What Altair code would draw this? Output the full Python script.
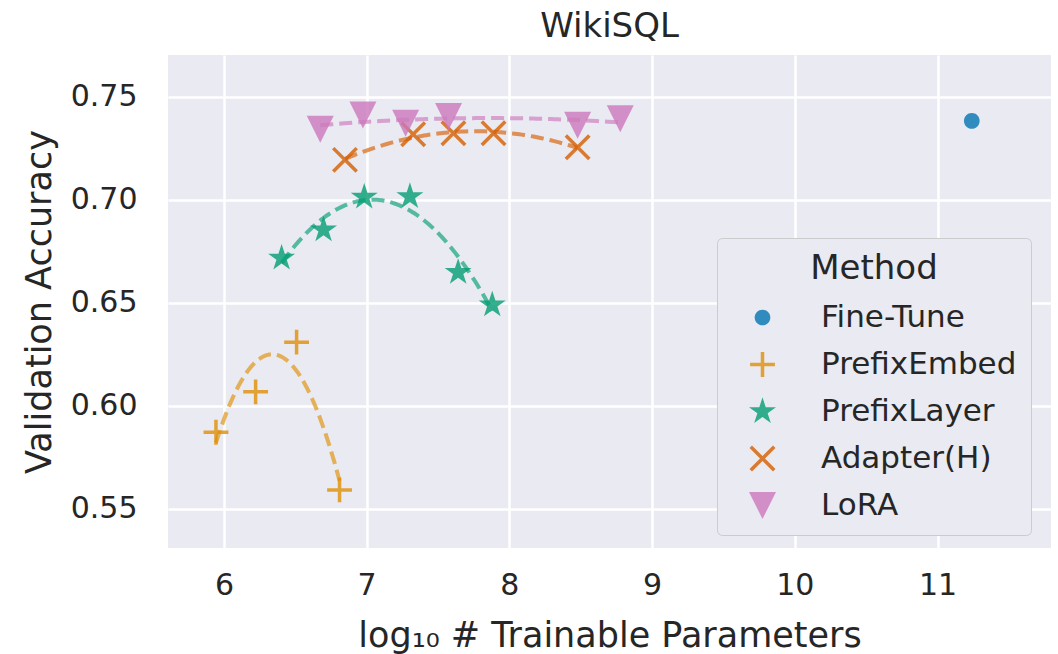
import altair as alt
import pandas as pd

# ---- data ----
methods = ["Fine-Tune", "PrefixEmbed", "PrefixLayer", "Adapter(H)", "LoRA"]
colors = ["#0173B2", "#DE8F05", "#029E73", "#D55E00", "#CC78BC"]

finetune_x = [11.24]
finetune_y = [0.7382]
prefixembed_x = [5.944, 6.222, 6.509, 6.810]
prefixembed_y = [0.5871, 0.6067, 0.6308, 0.5591]
prefixlayer_x = [6.404, 6.698, 6.983, 7.303, 7.641, 7.880]
prefixlayer_y = [0.6716, 0.6853, 0.7012, 0.7015, 0.6647, 0.6489]
adapter_x = [6.848, 7.326, 7.608, 7.889, 8.478]
adapter_y = [0.7193, 0.7317, 0.7322, 0.7322, 0.7254]
lora_x = [6.675, 6.974, 7.273, 7.574, 8.478, 8.777]
lora_y = [0.7342, 0.7411, 0.7371, 0.7403, 0.7361, 0.7392]

x_ticks = [6, 7, 8, 9, 10, 11]
y_ticks = [0.55, 0.60, 0.65, 0.70, 0.75]

series = [
    ("Fine-Tune", finetune_x, finetune_y),
    ("PrefixEmbed", prefixembed_x, prefixembed_y),
    ("PrefixLayer", prefixlayer_x, prefixlayer_y),
    ("Adapter(H)", adapter_x, adapter_y),
    ("LoRA", lora_x, lora_y),
]
rows = []
for name, xs, ys in series:
    for xv, yv in zip(xs, ys):
        rows.append({"Method": name, "x": xv, "y": yv})
df = pd.DataFrame(rows)

# ---- marker shapes (filled unit paths) ----
circle_path = "M-0.58,0A0.58,0.58 0 1,0 0.58,0A0.58,0.58 0 1,0 -0.58,0Z"
plus_path = ("M-0.92,-0.13L-0.13,-0.13L-0.13,-0.92L0.13,-0.92L0.13,-0.13L0.92,-0.13"
             "L0.92,0.13L0.13,0.13L0.13,0.92L-0.13,0.92L-0.13,0.13L-0.92,0.13Z")
star_path = ("M0,-1.05L0.236,-0.324L0.999,-0.324L0.381,0.124L0.617,0.849"
             "L0,0.401L-0.617,0.849L-0.381,0.124L-0.999,-0.324L-0.236,-0.324Z")
x_path = ("M0,-0.184L0.778,-0.962L0.962,-0.778L0.184,0L0.962,0.778L0.778,0.962"
          "L0,0.184L-0.778,0.962L-0.962,0.778L-0.184,0L-0.962,-0.778L-0.778,-0.962Z")
tri_path = "M-1,-1L1,-1L0,1Z"
shapes = [circle_path, plus_path, star_path, x_path, tri_path]

FONT = "DejaVu Sans"
TXT = "#262626"

xscale = alt.Scale(domain=[5.608, 11.795], nice=False, zero=False)
yscale = alt.Scale(domain=[0.5309, 0.7702], nice=False, zero=False)

x_axis = alt.Axis(values=x_ticks, format="d", title="log₁₀ # Trainable Parameters",
                  labelPadding=22, titleX=441.5, titleY=98,
                  titleBaseline="alphabetic")
y_axis = alt.Axis(values=y_ticks, format=".2f", title="Validation Accuracy",
                  labelPadding=31, titleX=-118, titleY=246.5,
                  titleBaseline="alphabetic")

color_scale = alt.Scale(domain=methods, range=colors)
base = alt.Chart(df)

points = base.mark_point(filled=True, opacity=0.8, size=729, strokeWidth=0).encode(
    x=alt.X("x:Q", scale=xscale, axis=x_axis),
    y=alt.Y("y:Q", scale=yscale, axis=y_axis),
    fill=alt.Fill("Method:N", scale=color_scale, legend=alt.Legend(title="Method")),
    shape=alt.Shape("Method:N", scale=alt.Scale(domain=methods, range=shapes),
                    legend=alt.Legend(title="Method")),
)

fits = base.transform_filter(
    alt.datum.Method != "Fine-Tune"
).transform_regression(
    "x", "y", groupby=["Method"], method="poly", order=2
).mark_line(strokeDash=[13, 6], strokeWidth=4, opacity=0.65).encode(
    x=alt.X("x:Q", scale=xscale),
    y=alt.Y("y:Q", scale=yscale),
    color=alt.Color("Method:N", scale=color_scale, legend=None),
)

chart = alt.layer(points, fits).properties(
    width=883,
    height=493,
    title=alt.TitleParams("WikiSQL", fontSize=34, font=FONT, fontWeight="normal",
                          color=TXT, baseline="alphabetic", offset=18, dy=34),
    autosize=alt.AutoSizeParams(type="none"),
    padding={"left": 168, "top": 55, "right": 7, "bottom": 106},
).configure_view(
    fill="#EAEAF2", stroke=None
).configure_axis(
    grid=True, gridColor="white", gridWidth=2.5, gridOpacity=1,
    domain=False, ticks=False, tickSize=0,
    labelFont=FONT, labelFontSize=30, labelColor=TXT,
    titleFont=FONT, titleFontSize=35, titleColor=TXT, titleFontWeight="normal",
).configure_legend(
    orient="none", legendX=549, legendY=183,
    padding=14, fillColor="#EAEAF2", strokeColor="#CCCCCC", cornerRadius=5,
    titleFont=FONT, titleFontSize=34, titleFontWeight="normal", titleColor=TXT,
    titleAnchor="middle", titlePadding=16,
    labelFont=FONT, labelFontSize=31, labelColor=TXT, labelLimit=400,
    symbolSize=729, symbolStrokeWidth=0, symbolOpacity=0.8,
    symbolOffset=16, labelOffset=43, rowPadding=15,
)

chart.save("out.html", embed_options={"renderer": "svg", "actions": False})
